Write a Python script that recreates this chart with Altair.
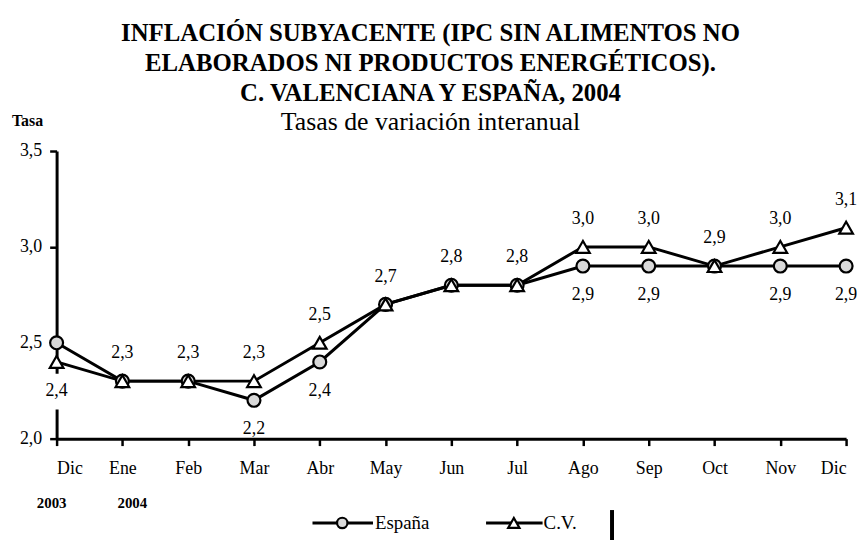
import altair as alt
import pandas as pd

# ---- data ----
months = ["Dic", "Ene", "Feb", "Mar", "Abr", "May", "Jun", "Jul", "Ago", "Sep", "Oct", "Nov", "Dic"]
espana = [2.5, 2.3, 2.3, 2.2, 2.4, 2.7, 2.8, 2.8, 2.9, 2.9, 2.9, 2.9, 2.9]
cv = [2.4, 2.3, 2.3, 2.3, 2.5, 2.7, 2.8, 2.8, 3.0, 3.0, 2.9, 3.0, 3.1]
series = ["España", "C.V."]
years = ["2003", "2004"]
y_ticks = [2.0, 2.5, 3.0, 3.5]
title_lines = [
    "INFLACIÓN SUBYACENTE  (IPC SIN ALIMENTOS NO",
    "ELABORADOS NI PRODUCTOS ENERGÉTICOS).",
    "C. VALENCIANA Y ESPAÑA, 2004",
]
subtitle = "Tasas de variación interanual"
y_title = "Tasa"

FONT = "Liberation Serif"
W, H = 796, 290


def fmt(v):
    return f"{v:.1f}".replace(".", ",")


idx = list(range(len(months)))
df_es = pd.DataFrame({"i": idx, "v": espana, "s": series[0]})
df_cv = pd.DataFrame({"i": idx, "v": cv, "s": series[1]})
df_es["lab"] = [fmt(v) for v in espana]
df_cv["lab"] = [fmt(v) for v in cv]

# label placement rules: C.V. above (first point below), España below where it differs
cv_above = df_cv[df_cv["i"] > 0]
cv_below = df_cv[df_cv["i"] == 0]
es_below = df_es[(df_es["i"] > 0) & (df_es["v"] != df_cv["v"])]

x_scale = alt.Scale(domain=[0, len(months) - 1], nice=False, zero=False)
y_scale = alt.Scale(domain=[y_ticks[0], y_ticks[-1]], nice=False, zero=False)

month_arr = "[" + ",".join(f"'{m}'" for m in months) + "]"

x_enc = alt.X(
    "i:Q",
    scale=x_scale,
    axis=alt.Axis(
        values=idx,
        labelExpr=f"{month_arr}[datum.value]",
        title=None,
        grid=False,
        domainColor="black",
        domainWidth=3,
        tickColor="black",
        tickWidth=2.5,
        tickSize=7,
        labelPadding=14,
        labelFont=FONT,
        labelFontSize=18,
        labelColor="black",
        labelAngle=0,
    ),
)
y_enc = alt.Y(
    "v:Q",
    scale=y_scale,
    axis=alt.Axis(
        values=y_ticks,
        labelExpr="replace(format(datum.value, '.1f'), '.', ',')",
        title=None,
        grid=False,
        domainColor="black",
        domainWidth=3,
        tickColor="black",
        tickWidth=2.5,
        tickSize=7,
        labelPadding=8,
        labelFont=FONT,
        labelFontSize=18,
        labelColor="black",
    ),
)

base_es = alt.Chart(df_es)
base_cv = alt.Chart(df_cv)

line_es = base_es.mark_line(color="black", strokeWidth=3).encode(x=x_enc, y=y_enc)
line_cv = base_cv.mark_line(color="black", strokeWidth=3).encode(x=x_enc, y=y_enc)

pts_es = base_es.mark_point(
    shape="circle", filled=True, fill="#d9d9d9", stroke="black", strokeWidth=2.2, size=170, opacity=1
).encode(x=x_enc, y=y_enc)
pts_cv = base_cv.mark_point(
    shape="triangle-up", filled=True, fill="white", stroke="black", strokeWidth=2.2, size=190, opacity=1
).encode(x=x_enc, y=y_enc)

lab_kw = dict(font=FONT, fontSize=18, color="black", baseline="middle", align="center")
lab_cv_up = alt.Chart(cv_above).mark_text(dy=-28, **lab_kw).encode(
    x=alt.X("i:Q", scale=x_scale), y=alt.Y("v:Q", scale=y_scale), text="lab:N"
)
# white label box (hides the axis line behind the first label, as in the reference)
lab_cv_box = alt.Chart(cv_below).mark_point(
    shape="square", filled=True, color="white", size=1300, opacity=1, yOffset=30
).encode(x=alt.X("i:Q", scale=x_scale), y=alt.Y("v:Q", scale=y_scale))
lab_cv_dn = alt.Chart(cv_below).mark_text(dy=29, **lab_kw).encode(
    x=alt.X("i:Q", scale=x_scale), y=alt.Y("v:Q", scale=y_scale), text="lab:N"
)
lab_es_dn = alt.Chart(es_below).mark_text(dy=29, **lab_kw).encode(
    x=alt.X("i:Q", scale=x_scale), y=alt.Y("v:Q", scale=y_scale), text="lab:N"
)

# year labels under the first two months
yr_kw = dict(font=FONT, fontSize=15, fontWeight="bold", color="black", baseline="middle", align="center")
yr0 = alt.Chart(pd.DataFrame({"i": [0], "t": [years[0]]})).mark_text(dx=-5, dy=65, **yr_kw).encode(
    x=alt.X("i:Q", scale=x_scale), y=alt.value(H), text="t:N"
)
yr1 = alt.Chart(pd.DataFrame({"i": [1], "t": [years[1]]})).mark_text(dx=10, dy=65, **yr_kw).encode(
    x=alt.X("i:Q", scale=x_scale), y=alt.value(H), text="t:N"
)

# titles (one text mark per line)
CX = 377
t_kw = dict(font=FONT, fontSize=25, fontWeight="bold", color="black", align="center", baseline="alphabetic")
t_layers = []
for k, ypix in enumerate([-111, -80.5, -50]):
    t_layers.append(
        alt.Chart(pd.DataFrame({"t": [title_lines[k]]})).mark_text(**t_kw).encode(
            text="t:N", x=alt.value(CX), y=alt.value(ypix)
        )
    )
sub = alt.Chart(pd.DataFrame({"t": [subtitle]})).mark_text(
    font=FONT, fontSize=26, color="black", align="center", baseline="alphabetic"
).encode(text="t:N", x=alt.value(CX), y=alt.value(-21))
ytit = alt.Chart(pd.DataFrame({"t": [y_title]})).mark_text(
    font=FONT, fontSize=16, fontWeight="bold", color="black", align="left", baseline="alphabetic"
).encode(text="t:N", x=alt.value(-45), y=alt.value(-25))

# legend (custom: line + marker + text)
LY = 375
leg_es_line = alt.Chart(pd.DataFrame({"s": [series[0]]})).mark_rule(color="black", strokeWidth=3).encode(
    x=alt.value(258), x2=alt.value(319), y=alt.value(LY)
)
leg_es_pt = alt.Chart(pd.DataFrame({"s": [series[0]]})).mark_point(
    shape="circle", filled=True, fill="#d9d9d9", stroke="black", strokeWidth=2.2, size=110, opacity=1
).encode(x=alt.value(288), y=alt.value(LY))
leg_es_txt = alt.Chart(pd.DataFrame({"s": [series[0]]})).mark_text(
    font=FONT, fontSize=19, color="black", align="left", baseline="middle"
).encode(text="s:N", x=alt.value(321), y=alt.value(LY))
leg_cv_line = alt.Chart(pd.DataFrame({"s": [series[1]]})).mark_rule(color="black", strokeWidth=3).encode(
    x=alt.value(433), x2=alt.value(490), y=alt.value(LY)
)
leg_cv_pt = alt.Chart(pd.DataFrame({"s": [series[1]]})).mark_point(
    shape="triangle-up", filled=True, fill="white", stroke="black", strokeWidth=2.2, size=130, opacity=1
).encode(x=alt.value(461), y=alt.value(LY))
leg_cv_txt = alt.Chart(pd.DataFrame({"s": [series[1]]})).mark_text(
    font=FONT, fontSize=19, color="black", align="left", baseline="middle"
).encode(text="s:N", x=alt.value(491), y=alt.value(LY))
bar = alt.Chart(pd.DataFrame({"s": [""]})).mark_rule(color="black", strokeWidth=4).encode(
    x=alt.value(560), y=alt.value(362), y2=alt.value(394)
)

chart = alt.layer(
    line_es, line_cv, pts_es, pts_cv, lab_cv_up, lab_cv_box, lab_cv_dn, lab_es_dn,
    yr0, yr1, *t_layers, sub, ytit,
    leg_es_line, leg_es_pt, leg_es_txt, leg_cv_line, leg_cv_pt, leg_cv_txt, bar,
).properties(
    width=W,
    height=H,
    autosize=alt.AutoSizeParams(type="none"),
    padding={"left": 49, "top": 142, "right": 11, "bottom": 100},
    background="white",
).configure_view(strokeWidth=0)

chart.save("out.html", embed_options={"renderer": "svg", "actions": False})
